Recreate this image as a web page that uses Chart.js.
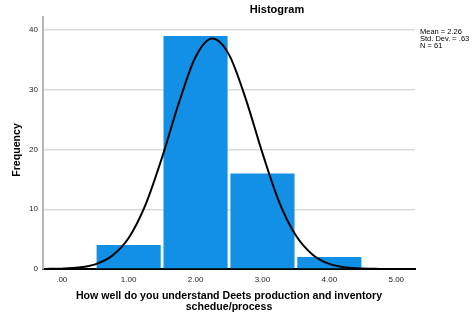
<!DOCTYPE html>
<html>
<head>
<meta charset="utf-8">
<script src="https://cdn.jsdelivr.net/npm/chart.js@4"></script>
<style>
  html, body { margin: 0; padding: 0; background: #fff; }
  #wrap { width: 472px; height: 312px; position: relative; }
</style>
</head>
<body>
<div id="wrap"><canvas id="hist" width="472" height="312"></canvas></div>
<script>
// bins (midpoints) and counts
const binCenters = [1, 2, 3, 4];
const binCounts  = [4, 39, 16, 2];

// fitted normal curve
const curveX = [-0.25, 0, 0.25, 0.5, 0.75, 1, 1.25, 1.5, 1.75, 2, 2.25, 2.5, 2.75, 3, 3.25, 3.5, 3.75, 4, 4.25, 4.5, 4.75, 5, 5.25];
const curveY = [0.01, 0.06, 0.24, 0.78, 2.2, 5.2, 10.7, 18.7, 27.8, 35.5, 38.6, 35.9, 28.5, 19.4, 11.2, 5.6, 2.4, 0.85, 0.26, 0.07, 0.02, 0.0, 0.0];

const xTicks = [0, 1, 2, 3, 4, 5];
const yTicks = [0, 10, 20, 30, 40];
const statLines = ['Mean = 2.26', 'Std. Dev. = .63', 'N = 61'];

const FONT = '"Liberation Sans", Arial, sans-serif';

const textPlugin = {
  id: 'texts',
  afterDraw(chart) {
    const c = chart.ctx;
    c.save();
    c.fillStyle = '#000';
    c.textBaseline = 'middle';
    c.textAlign = 'center';
    c.font = 'bold 11px ' + FONT;
    c.fillText('Histogram', 277, 10);

    c.font = 'bold 10.6px ' + FONT;
    c.fillText('How well do you understand Deets production and inventory', 229, 296);
    c.fillText('schedue/process', 229, 307);

    c.save();
    c.translate(17, 150);
    c.rotate(-Math.PI / 2);
    c.fillText('Frequency', 0, 0);
    c.restore();

    c.textAlign = 'left';
    c.font = '7.5px ' + FONT;
    statLines.forEach((s, i) => c.fillText(s, 420, 32 + i * 7));
    c.restore();
  }
};

new Chart(document.getElementById('hist'), {
  data: {
    datasets: [
      {
        type: 'line',
        data: curveX.map((x, i) => ({ x: x, y: curveY[i] })),
        borderColor: '#000',
        borderWidth: 2,
        pointRadius: 0,
        cubicInterpolationMode: 'monotone',
        fill: false,
        order: 0
      },
      {
        type: 'bar',
        data: binCenters.map((x, i) => ({ x: x, y: binCounts[i] })),
        backgroundColor: '#1190e6',
        barPercentage: 0.958,
        categoryPercentage: 1,
        order: 1
      }
    ]
  },
  options: {
    responsive: false,
    animation: false,
    layout: { padding: { left: 0, right: 57, top: 17, bottom: 0 } },
    plugins: { legend: { display: false }, tooltip: { enabled: false }, title: { display: false } },
    scales: {
      x: {
        type: 'linear',
        offset: false,
        min: -0.28,
        max: 5.28,
        afterBuildTicks: s => { s.ticks = xTicks.map(v => ({ value: v })); },
        afterFit: s => { s.height = 43; },
        grid: { display: false, drawTicks: false, offset: false },
        border: { color: '#000', width: 2 },
        ticks: {
          padding: 6,
          color: '#222',
          font: { family: FONT, size: 8 },
          callback: v => v === 0 ? '.00' : v.toFixed(2)
        }
      },
      y: {
        min: 0,
        max: 42.2,
        afterBuildTicks: s => { s.ticks = yTicks.map(v => ({ value: v })); },
        afterFit: s => { s.width = 43; },
        grid: { color: '#dcdcdc', lineWidth: 1.5, drawTicks: false },
        border: { color: '#b8b8b8', width: 2 },
        ticks: {
          padding: 5,
          color: '#222',
          font: { family: FONT, size: 8 }
        }
      }
    }
  },
  plugins: [textPlugin]
});
</script>
</body>
</html>
